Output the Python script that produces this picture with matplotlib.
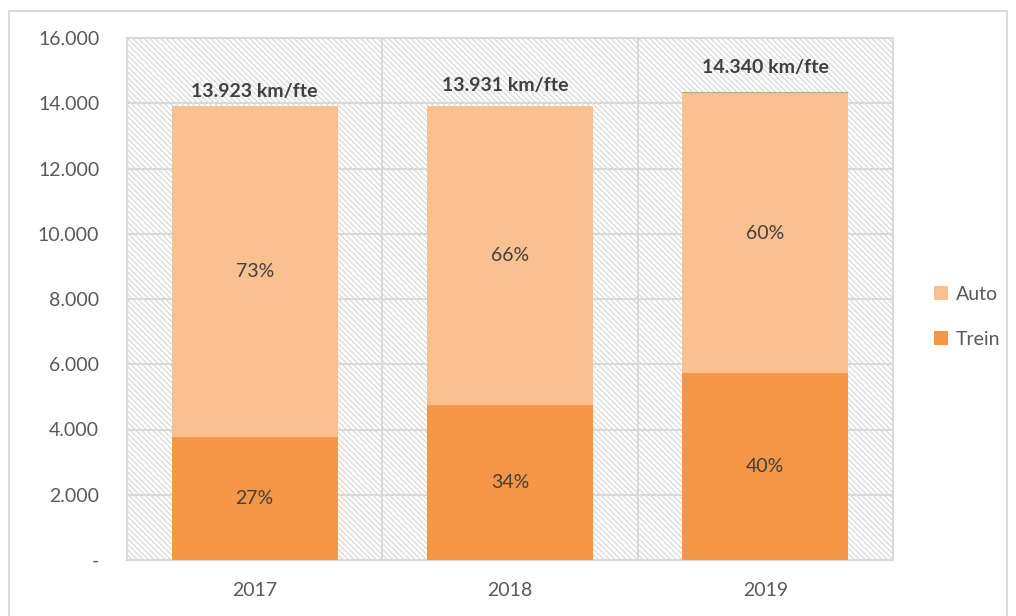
import matplotlib
matplotlib.use("Agg")
import matplotlib.pyplot as plt
from matplotlib.patches import Rectangle, Patch
from matplotlib.ticker import FixedLocator, FuncFormatter

years = ["2017", "2018", "2019"]
totals = [13923, 13931, 14340]
trein = [3759, 4737, 5736]
overig = [0, 0, 40]
auto = [t - tr - o for t, tr, o in zip(totals, trein, overig)]
pct_trein = [27, 34, 40]
pct_auto = [73, 66, 60]
yticks = [0, 2000, 4000, 6000, 8000, 10000, 12000, 14000, 16000]

C_TREIN = "#F79646"
C_AUTO = "#FAC090"
C_GREEN = "#9BBB59"
GRID = "#D9D9D9"
TXT = "#595959"
DARK = "#404040"
FONT = ["Lato", "DejaVu Sans"]

plt.rcParams["font.family"] = FONT
plt.rcParams["hatch.color"] = GRID
plt.rcParams["hatch.linewidth"] = 0.9

fig = plt.figure(figsize=(10.16, 6.16), dpi=100)
W, H = 1016, 616
ax = fig.add_axes([127 / W, 1 - 560 / H, (893 - 127) / W, (560 - 38) / H])

# figure frame
fig.patches.append(Rectangle((9 / W, -0.05), (1007 - 9) / W, 1 - 11 / H + 0.05,
                             transform=fig.transFigure, fill=False,
                             edgecolor=GRID, linewidth=1.5, zorder=0))

# hatched plot background
ax.add_patch(Rectangle((0, 0), 1, 1, transform=ax.transAxes, facecolor="white",
                       edgecolor=GRID, hatch="\\\\\\\\\\\\", linewidth=0, zorder=0))

x = list(range(len(years)))
bw = 0.65
ax.bar(x, trein, width=bw, color=C_TREIN, zorder=3, label="Trein")
ax.bar(x, auto, width=bw, bottom=trein, color=C_AUTO, zorder=3, label="Auto")
ax.bar(x, overig, width=bw, bottom=[a + b for a, b in zip(trein, auto)],
       color=C_GREEN, zorder=3, label="_nolegend_")

ax.set_xlim(-0.5, 2.5)
ax.set_ylim(0, 16000)

# grid
for yv in yticks[1:-1]:
    ax.axhline(yv, color=GRID, linewidth=1.5, zorder=1)
for xv in [0.5, 1.5]:
    ax.axvline(xv, color=GRID, linewidth=1.5, zorder=1)
for s in ax.spines.values():
    s.set_color(GRID)
    s.set_linewidth(1.5)

ax.yaxis.set_major_locator(FixedLocator(yticks))
ax.yaxis.set_major_formatter(FuncFormatter(
    lambda v, p: "-" if v == 0 else f"{int(v):,}".replace(",", ".")))
ax.set_xticks(x)
ax.set_xticklabels(years)
ax.tick_params(axis="both", length=0, labelsize=14, colors=TXT)
ax.tick_params(axis="y", pad=20)
ax.tick_params(axis="x", pad=16)

# segment labels
for i in x:
    ax.text(i, trein[i] / 2, f"{pct_trein[i]}%", ha="center", va="center",
            fontsize=14, color=DARK, zorder=5)
    ax.text(i, trein[i] + auto[i] / 2, f"{pct_auto[i]}%", ha="center", va="center",
            fontsize=14, color=DARK, zorder=5)

label_offsets = [422, 598, 771]
label_dx = [0, -0.02, 0]
for i in x:
    ax.text(i + label_dx[i], totals[i] + label_offsets[i],
            f"{totals[i]:,}".replace(",", ".") + " km/fte",
            ha="center", va="center", fontsize=14, fontweight="bold",
            color=DARK, zorder=5)

handles = [Patch(facecolor=C_AUTO, label="Auto"), Patch(facecolor=C_TREIN, label="Trein")]
leg = fig.legend(handles=handles, loc="center left", bbox_to_anchor=(916 / W, 1 - 317 / H),
                 frameon=False, fontsize=14, handlelength=0.75, handleheight=0.75,
                 handletextpad=0.4, labelspacing=1.45)
for t in leg.get_texts():
    t.set_color(TXT)

fig.savefig("out.png", dpi=100)
